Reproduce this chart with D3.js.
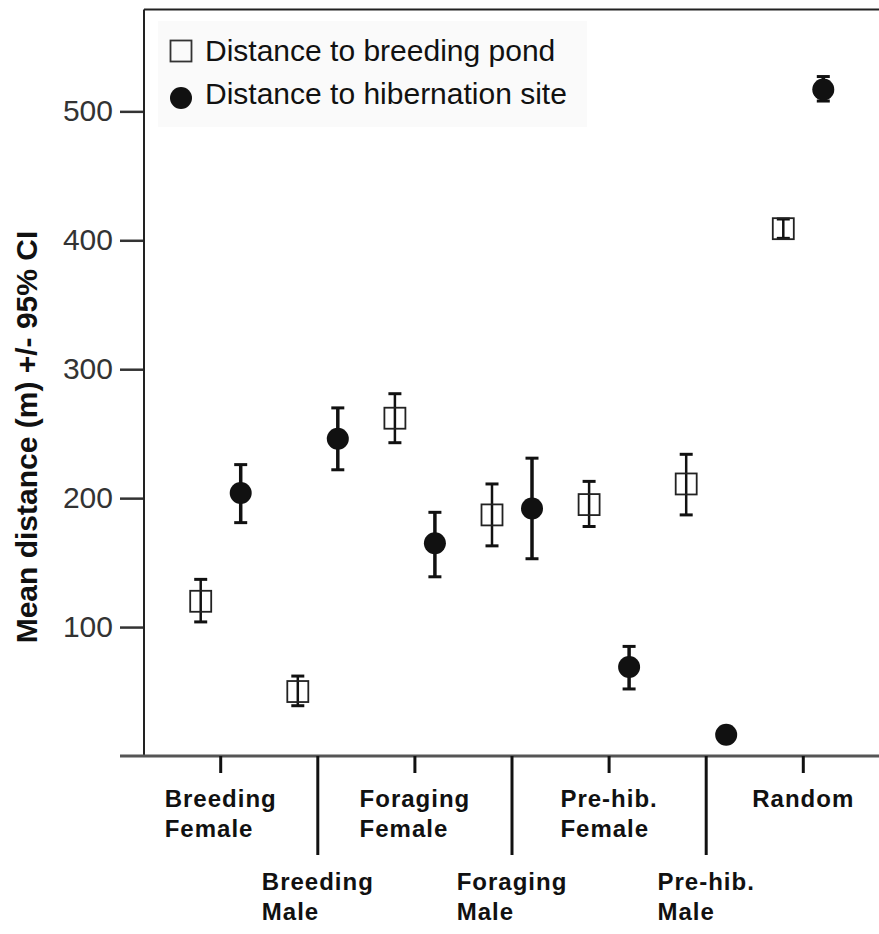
<!DOCTYPE html>
<html>
<head>
<meta charset="utf-8">
<script src="https://cdn.jsdelivr.net/npm/d3@7"></script>
<style>
  html, body { margin: 0; padding: 0; background: #ffffff; }
  svg { display: block; }
</style>
</head>
<body>
<svg id="chart" width="879" height="934"></svg>
<script>
// ---- Data ----
const categories = ["Breeding Female", "Breeding Male", "Foraging Female", "Foraging Male",
                    "Pre-hib. Female", "Pre-hib. Male", "Random"];
const categoryLines = [["Breeding", "Female"], ["Breeding", "Male"], ["Foraging", "Female"],
                       ["Foraging", "Male"], ["Pre-hib.", "Female"], ["Pre-hib.", "Male"], ["Random"]];
const seriesNames = ["Distance to breeding pond", "Distance to hibernation site"];

const pondMean = [120, 50, 262, 187, 195, 211, 409];
const pondLow  = [104, 39, 243, 163, 178, 187, 401.5];
const pondHigh = [137, 62, 281, 211, 213, 234, 416.5];

const hibMean = [204, 246, 165, 192, 69, 16.5, 517];
const hibLow  = [181, 222, 139, 153, 52, 13, 508];
const hibHigh = [226, 270, 189, 231, 85, 20, 527];

const yTicks = [100, 200, 300, 400, 500];
const yLabel = "Mean distance (m) +/- 95% CI";

// ---- Layout ----
const svg = d3.select("#chart");
const plotLeft = 144, plotRight = 879, plotTop = 9.5, plotBottom = 756;

const x = d3.scalePoint().domain(categories).range([plotLeft, plotRight + 1]).padding(0.79);
const offset = d3.scalePoint().domain(["pond", "hib"]).range([-20, 20]);
const y = d3.scaleLinear().domain([0, 579]).range([plotBottom, plotTop]);

const ink = "#111";

// Frame: top line
svg.append("line").attr("x1", plotLeft).attr("x2", plotRight).attr("y1", plotTop).attr("y2", plotTop)
  .attr("stroke", "#222").attr("stroke-width", 2);

// Y axis
const yAxis = d3.axisLeft(y).tickValues(yTicks).tickSize(24).tickPadding(7).tickFormat(d3.format("d"));
const gy = svg.append("g").attr("transform", `translate(${plotLeft},0)`).call(yAxis);
gy.select(".domain").remove();
gy.selectAll(".tick line").attr("stroke", "#333").attr("stroke-width", 2.5);
gy.selectAll(".tick text").attr("font-family", "Liberation Sans, Arial, sans-serif")
  .attr("font-size", 30).attr("fill", "#333");
svg.append("line").attr("x1", plotLeft).attr("x2", plotLeft).attr("y1", plotTop).attr("y2", plotBottom)
  .attr("stroke", "#222").attr("stroke-width", 2);

// X axis line
svg.append("line").attr("x1", 120).attr("x2", plotRight).attr("y1", plotBottom).attr("y2", plotBottom)
  .attr("stroke", "#555").attr("stroke-width", 3);

// X ticks and staggered labels
const xg = svg.append("g");
categories.forEach((c, i) => {
  const cx = x(c);
  const second = i % 2 === 1;
  xg.append("line").attr("x1", cx).attr("x2", cx).attr("y1", plotBottom)
    .attr("y2", second ? 855 : 773).attr("stroke", ink).attr("stroke-width", 3);
  const base = second ? 890 : 807;
  const t = xg.append("text").attr("font-family", "Liberation Sans, Arial, sans-serif")
    .attr("font-weight", "bold").attr("font-size", 24).attr("letter-spacing", 1).attr("fill", ink);
  const lines = categoryLines[i];
  const tspans = lines.map((ln, k) => t.append("tspan").attr("y", base + k * 30).text(ln));
  const w = d3.max(tspans, s => s.node().getComputedTextLength());
  tspans.forEach(s => s.attr("x", cx - w / 2));
});

// Y axis title
svg.append("text")
  .attr("transform", `translate(37,437) rotate(-90)`)
  .attr("text-anchor", "middle")
  .attr("font-family", "Liberation Sans, Arial, sans-serif")
  .attr("font-weight", "bold").attr("font-size", 30).attr("fill", ink)
  .text(yLabel);

// Legend
const lg = svg.append("g");
lg.append("rect").attr("x", 158).attr("y", 21).attr("width", 429).attr("height", 106)
  .attr("fill", "#fafafa");
lg.append("rect").attr("x", 170.5).attr("y", 40.5).attr("width", 21).attr("height", 21)
  .attr("fill", "none").attr("stroke", "#333").attr("stroke-width", 1.8);
lg.append("circle").attr("cx", 181).attr("cy", 98).attr("r", 11).attr("fill", ink);
seriesNames.forEach((s, i) => {
  lg.append("text").attr("x", 205).attr("y", 61 + i * 43)
    .attr("font-family", "Liberation Sans, Arial, sans-serif").attr("font-size", 30)
    .attr("fill", ink).text(s);
});

// Error bars and markers
function errorBars(low, high, key, lw) {
  const g = svg.append("g");
  categories.forEach((c, i) => {
    const cx = x(c) + offset(key);
    g.append("line").attr("x1", cx).attr("x2", cx).attr("y1", y(low[i])).attr("y2", y(high[i]))
      .attr("stroke", ink).attr("stroke-width", lw);
    [low[i], high[i]].forEach(v => {
      g.append("line").attr("x1", cx - 6.5).attr("x2", cx + 6.5).attr("y1", y(v)).attr("y2", y(v))
        .attr("stroke", ink).attr("stroke-width", 3);
    });
  });
  return g;
}

const gp = errorBars(pondLow, pondHigh, "pond", 2.5);
categories.forEach((c, i) => {
  const cx = x(c) + offset("pond");
  gp.append("rect").attr("x", cx - 10.5).attr("y", y(pondMean[i]) - 10.5)
    .attr("width", 21).attr("height", 21)
    .attr("fill", "none").attr("stroke", "#222").attr("stroke-width", 1.8);
});

const gh = errorBars(hibLow, hibHigh, "hib", 3.5);
categories.forEach((c, i) => {
  gh.append("circle").attr("cx", x(c) + offset("hib")).attr("cy", y(hibMean[i]))
    .attr("r", 11).attr("fill", ink);
});
</script>
</body>
</html>
